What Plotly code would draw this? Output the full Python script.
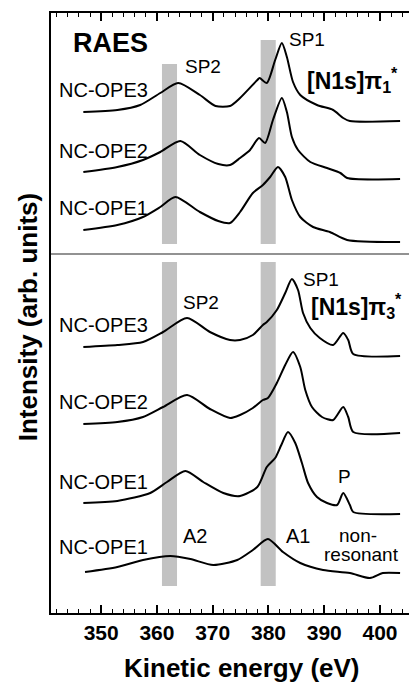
import plotly.graph_objects as go

# ---------------- data (kinetic energy in eV, intensity in arb. units incl. offsets) -------------
# Upper panel: [N1s]pi1* excitation
e_top_ope3 = [346.8, 352.9, 357.0, 360.6, 363.8, 367.7, 370.5, 373.1, 374.9, 378.0, 378.4, 379.7, 381.2, 382.4, 383.3, 384.4, 385.7, 388.7, 391.6, 393.4, 394.6, 403.6]
i_top_ope3 = [501, 503, 508, 520, 530, 518, 507, 507, 515, 533, 535, 530, 553, 570, 556, 531, 518, 508, 503, 495, 492, 492]

e_top_ope2 = [346.8, 352.9, 357.5, 360.6, 364.2, 367.7, 371.0, 373.1, 374.9, 376.7, 378.3, 379.4, 380.8, 382.4, 383.3, 384.2, 385.3, 387.5, 390.5, 392.9, 394.1, 403.6]
i_top_ope2 = [441, 446, 453, 461, 472, 458, 449, 448, 455, 463, 475, 470, 493, 515, 501, 476, 463, 451, 445, 440, 435, 434]

e_top_ope1 = [346.8, 352.9, 357.5, 360.6, 363.3, 367.7, 371.0, 373.1, 374.9, 377.2, 379.0, 380.3, 381.7, 383.0, 384.2, 385.7, 388.0, 391.0, 394.1, 403.6]
i_top_ope1 = [383, 388, 396, 406, 416, 401, 392, 390, 401, 420, 428, 436, 446, 436, 413, 396, 386, 381, 373, 371]

# Lower panel: [N1s]pi3* excitation and non-resonant
e_bot_ope3 = [346.8, 352.9, 357.5, 361.1, 365.4, 369.5, 373.1, 374.9, 377.2, 379.0, 379.7, 381.5, 383.0, 384.2, 385.3, 386.2, 387.5, 389.2, 391.6, 393.4, 394.3, 395.2, 403.6]
i_bot_ope3 = [266, 268, 271, 281, 295, 281, 273, 273, 278, 288, 291, 303, 320, 334, 323, 300, 285, 275, 268, 280, 273, 259, 257]

e_bot_ope2 = [346.8, 352.9, 357.5, 361.1, 365.4, 369.5, 373.1, 374.9, 377.2, 379.0, 379.9, 381.5, 383.0, 384.4, 385.7, 386.6, 387.8, 389.6, 391.6, 393.4, 394.3, 395.2, 403.6]
i_bot_ope2 = [189, 191, 196, 206, 218, 204, 195, 198, 205, 213, 215, 230, 248, 261, 246, 223, 206, 196, 193, 206, 196, 181, 180]

e_bot_ope1 = [346.8, 352.9, 358.8, 361.8, 365.1, 368.3, 371.9, 374.9, 378.0, 379.7, 381.2, 382.3, 383.5, 384.8, 386.0, 387.1, 388.7, 390.5, 392.3, 393.4, 394.6, 395.2, 403.6]
i_bot_ope1 = [110, 112, 120, 131, 142, 131, 120, 117, 126, 146, 155, 168, 181, 170, 150, 130, 116, 110, 108, 120, 108, 101, 99]

e_nonres = [347.1, 352.9, 357.5, 362.4, 366.0, 370.1, 374.4, 377.2, 379.9, 382.6, 385.7, 389.8, 394.6, 398.2, 400.5, 403.6]
i_nonres = [41, 46, 53, 57, 54, 48, 53, 63, 74, 61, 50, 43, 40, 35, 40, 40]

# highlighted energy regions (eV)
band_lo = [360.9, 378.6]
band_hi = [363.6, 381.3]

x_ticks = [350, 360, 370, 380, 390, 400]

curves = [
    (e_top_ope3, i_top_ope3, "NC-OPE3 π1*"),
    (e_top_ope2, i_top_ope2, "NC-OPE2 π1*"),
    (e_top_ope1, i_top_ope1, "NC-OPE1 π1*"),
    (e_bot_ope3, i_bot_ope3, "NC-OPE3 π3*"),
    (e_bot_ope2, i_bot_ope2, "NC-OPE2 π3*"),
    (e_bot_ope1, i_bot_ope1, "NC-OPE1 π3*"),
    (e_nonres, i_nonres, "NC-OPE1 non-resonant"),
]

FONT = "Arial, Liberation Sans, sans-serif"

fig = go.Figure()
for e, i, name in curves:
    fig.add_trace(go.Scatter(x=e, y=i, mode="lines", name=name,
                             line=dict(color="black", width=2, shape="spline", smoothing=0.7),
                             showlegend=False, hoverinfo="skip"))

# grey bands: upper panel and lower panel
panel_split = 359
top_band_bottom = 369
top_band_tops = [549, 573]
bot_band_range = (27, 351)
shapes = []
for k in range(2):
    shapes.append(dict(type="rect", xref="x", yref="y", x0=band_lo[k], x1=band_hi[k],
                       y0=top_band_bottom, y1=top_band_tops[k], fillcolor="#c2c2c2",
                       line=dict(width=0), layer="below"))
    shapes.append(dict(type="rect", xref="x", yref="y", x0=band_lo[k], x1=band_hi[k],
                       y0=bot_band_range[0], y1=bot_band_range[1], fillcolor="#c2c2c2",
                       line=dict(width=0), layer="below"))
shapes.append(dict(type="line", xref="paper", yref="y", x0=0, x1=1, y0=panel_split, y1=panel_split,
                   line=dict(color="#6e6e6e", width=1.5)))

ann = []
def add(text, x, y, size=20, bold=False, xanchor="center"):
    ann.append(dict(text=text, x=x, y=y, xref="x", yref="y", showarrow=False,
                    xanchor=xanchor, yanchor="middle",
                    font=dict(family=FONT, size=size, color="black",
                              weight="bold" if bold else "normal")))

add("RAES", 351.6, 570, size=27, bold=True)
add("SP2", 368.3, 547, size=19)
add("SP1", 386.9, 574, size=19)
add("[N1s]π<sub>1</sub><sup>*</sup>", 386.6, 533, size=23, bold=True, xanchor="left")
add("NC-OPE3", 342.1, 523, xanchor="left")
add("NC-OPE2", 342.1, 462, xanchor="left")
add("NC-OPE1", 342.1, 405, xanchor="left")

add("SP2", 367.9, 311, size=19)
add("SP1", 389.4, 334, size=19)
add("[N1s]π<sub>3</sub><sup>*</sup>", 387.2, 307, size=23, bold=True, xanchor="left")
add("NC-OPE3", 342.1, 288, xanchor="left")
add("NC-OPE2", 342.1, 211, xanchor="left")
add("NC-OPE1", 342.1, 131, xanchor="left")
add("NC-OPE1", 342.1, 66, xanchor="left")
add("P", 393.7, 137, size=19)
add("A2", 366.8, 77, size=20)
add("A1", 385.3, 77, size=20)
add("non-", 396.0, 78, size=19)
add("resonant", 396.6, 59, size=19)

# axis titles
ann.append(dict(text="Intensity (arb. units)", xref="paper", yref="paper", x=-0.064, y=0.493,
                textangle=-90, showarrow=False, xanchor="center", yanchor="middle",
                font=dict(family=FONT, size=26, color="black", weight="bold")))
ann.append(dict(text="Kinetic energy (eV)", xref="paper", yref="paper", x=0.5335, y=-0.092,
                showarrow=False, xanchor="center", yanchor="middle",
                font=dict(family=FONT, size=26, color="black", weight="bold")))

fig.update_layout(
    width=409, height=687,
    margin=dict(l=51, r=0, t=13, b=74),
    paper_bgcolor="white", plot_bgcolor="white",
    shapes=shapes, annotations=ann,
    xaxis=dict(range=[341.0, 405.2], tickvals=x_ticks, ticktext=[str(v) for v in x_ticks],
               ticks="inside", ticklen=8, tickwidth=1.5, tickcolor="black",
               minor=dict(dtick=2, tick0=350, ticks="inside", ticklen=4, tickwidth=1.2, tickcolor="black"),
               showline=True, linecolor="black", linewidth=2, mirror="ticks",
               showgrid=False, zeroline=False,
               tickfont=dict(family=FONT, size=21, color="black", weight="bold")),
    yaxis=dict(range=[0, 600], showline=True, linecolor="black", linewidth=2, mirror=False,
               showticklabels=False, ticks="", showgrid=False, zeroline=False),
)

fig.write_html("out.html", config={"displayModeBar": False},
               post_script="document.body.style.margin='0px';document.body.style.overflow='hidden';")
